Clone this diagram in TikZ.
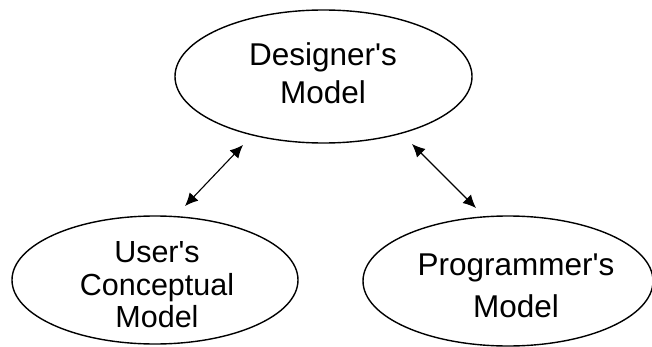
\documentclass[tikz,border=0pt]{standalone}
\usepackage{fontspec}
\setmainfont{Liberation Sans}
\usetikzlibrary{shapes.geometric,arrows.meta}
\newcommand{\apo}{\textquotesingle}
\begin{document}
\begin{tikzpicture}[x=1pt,y=1pt,
  model/.style={draw=black, line width=1.4pt, ellipse, inner sep=0pt},
  modeltext/.style={align=center, inner sep=0pt, font=\fontsize{31.5}{38}\selectfont},
  tip/.tip={Latex[length=13pt,width=12pt]},
  link/.style={line width=1.1pt, tip-tip}]
\useasboundingbox (0,0) rectangle (652,346);
\fill[white] (0,0) rectangle (652,346);
% ellipses
\node[model, minimum width=297pt, minimum height=133pt] (des) at (323.5,269.5) {};
\node[model, minimum width=286pt, minimum height=128pt] (usr) at (155,66) {};
\node[model, minimum width=290pt, minimum height=130pt] (prg) at (508,65) {};
% texts
\node[modeltext] (destxt) at (323,273) {Designer\apo s\\Model};
\node[modeltext, font=\fontsize{30.5}{32.5}\selectfont] (usrtxt) at (157,61) {User\apo s\\Conceptual\\Model};
\node[modeltext, font=\fontsize{31.5}{42}\selectfont] (prgtxt) at (516,60) {Programmer\apo s\\Model};
% connector ends
\coordinate (dl) at (243,201);
\coordinate (ul) at (185,140);
\coordinate (dr) at (412,202);
\coordinate (pr) at (476,138);
\draw[link] (dl) -- (ul);
\draw[link] (dr) -- (pr);
\end{tikzpicture}
\end{document}
